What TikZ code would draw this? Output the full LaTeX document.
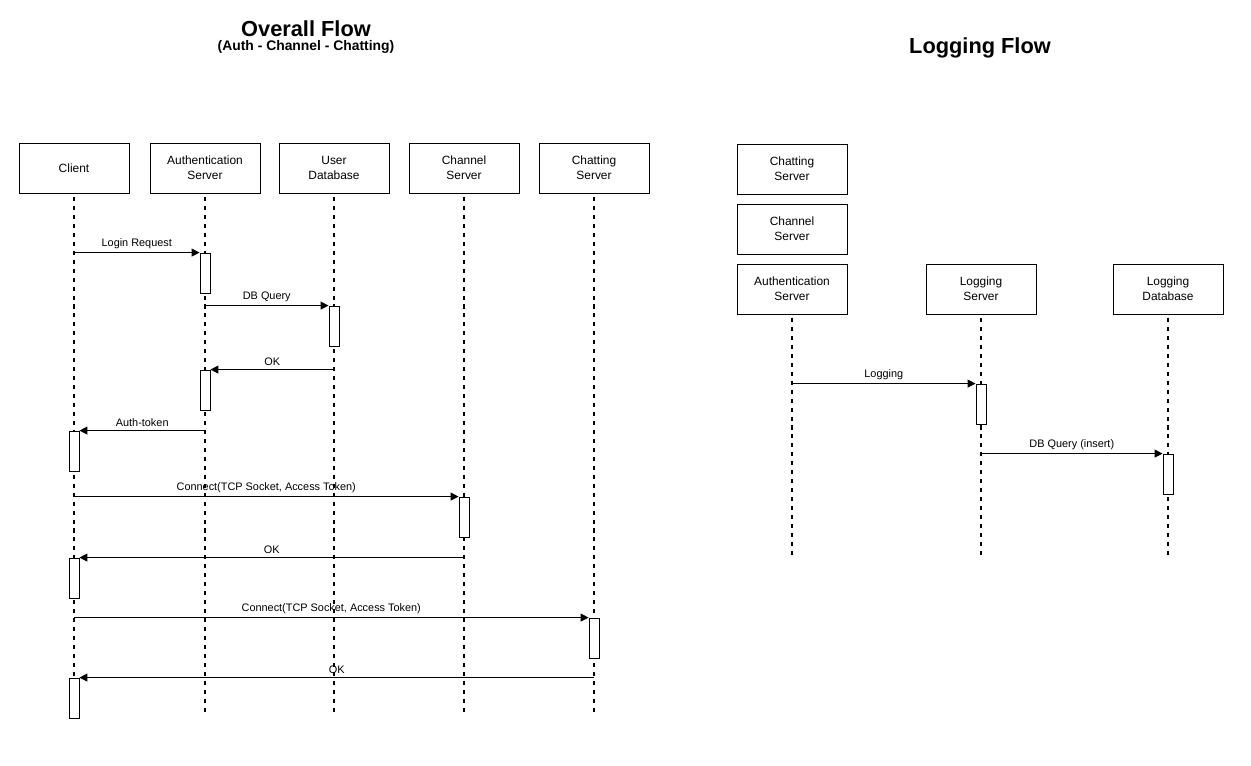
\documentclass[tikz,border=0pt]{standalone}
\usepackage{fontspec}
\setmainfont{Liberation Sans}
\usetikzlibrary{arrows.meta}
\tikzset{
  actor/.style={draw, line width=0.5pt, minimum width=2.2cm, minimum height=1cm, align=center, inner sep=0pt, font=\fontsize{6.8}{8.5}\selectfont},
  act/.style={draw, fill=white, line width=0.5pt, minimum width=0.2cm, minimum height=0.8cm, inner sep=0pt},
  life/.style={line width=1.1pt, dash pattern=on 2.3pt off 2.8pt, shorten <=2pt},
  msg/.style={-{Triangle[length=4.5pt,width=4.5pt]}, line width=0.55pt},
  lbl/.style={above, inner sep=2pt, font=\fontsize{6.2}{7}\selectfont},
  ttl/.style={font=\bfseries\fontsize{12.4}{14}\selectfont}
}

\begin{document}
\begin{tikzpicture}[x=0.02cm, y=-0.02cm]
\useasboundingbox (0,0) rectangle (1251,765);

\node[ttl] (t1) at (306,29) {Overall Flow};
\node[font=\bfseries\fontsize{7.9}{9}\selectfont] (t1s) at (306,47) {(Auth - Channel - Chatting)};
\node[ttl] (t2) at (980,48) {Logging Flow};

\node[actor] (cl) at (74,168) {Client};
\node[actor] (au) at (205,168) {Authentication\\Server};
\node[actor] (us) at (334,168) {User\\Database};
\node[actor] (ch) at (464,168) {Channel\\Server};
\node[actor] (cs) at (594,168) {Chatting\\Server};

\coordinate (clE) at (74,716);
\coordinate (auE) at (205,716);
\coordinate (usE) at (334,716);
\coordinate (chE) at (464,716);
\coordinate (csE) at (594,716);
\draw[life] (cl) -- (clE);
\draw[life] (au) -- (auE);
\draw[life] (us) -- (usE);
\draw[life] (ch) -- (chE);
\draw[life] (cs) -- (csE);

\node[act] (a1) at (205,273) {};
\node[act] (a2) at (334,326) {};
\node[act] (a3) at (205,390) {};
\node[act] (a4) at (74,451) {};
\node[act] (a5) at (464,517) {};
\node[act] (a6) at (74,578) {};
\node[act] (a7) at (594,638) {};
\node[act] (a8) at (74,698) {};

\draw[msg] (a1.north west -| cl) -- (a1.north west) node[lbl, midway] {Login Request};
\draw[msg] (a2.north west -| au) -- (a2.north west) node[lbl, midway] {DB Query};
\draw[msg] (a3.north east -| us) -- (a3.north east) node[lbl, midway] {OK};
\draw[msg] (a4.north east -| au) -- (a4.north east) node[lbl, midway] {Auth-token};
\draw[msg] (a5.north west -| cl) -- (a5.north west) node[lbl, midway] {Connect(TCP Socket, Access Token)};
\draw[msg] (a6.north east -| ch) -- (a6.north east) node[lbl, midway] {OK};
\draw[msg] (a7.north west -| cl) -- (a7.north west) node[lbl, midway] {Connect(TCP Socket, Access Token)};
\draw[msg] (a8.north east -| cs) -- (a8.north east) node[lbl, midway] {OK};

\node[actor] (cs2) at (792,169) {Chatting\\Server};
\node[actor] (ch2) at (792,229) {Channel\\Server};
\node[actor] (au2) at (792,289) {Authentication\\Server};
\node[actor] (ls) at (981,289) {Logging\\Server};
\node[actor] (ld) at (1168,289) {Logging\\Database};

\coordinate (au2E) at (792,555);
\coordinate (lsE) at (981,555);
\coordinate (ldE) at (1168,555);
\draw[life] (au2) -- (au2E);
\draw[life] (ls) -- (lsE);
\draw[life] (ld) -- (ldE);

\node[act] (b1) at (981,404) {};
\node[act] (b2) at (1168,474) {};

\draw[msg] (b1.north west -| au2) -- (b1.north west) node[lbl, midway] {Logging};
\draw[msg] (b2.north west -| ls) -- (b2.north west) node[lbl, midway] {DB Query (insert)};
\end{tikzpicture}
\end{document}
